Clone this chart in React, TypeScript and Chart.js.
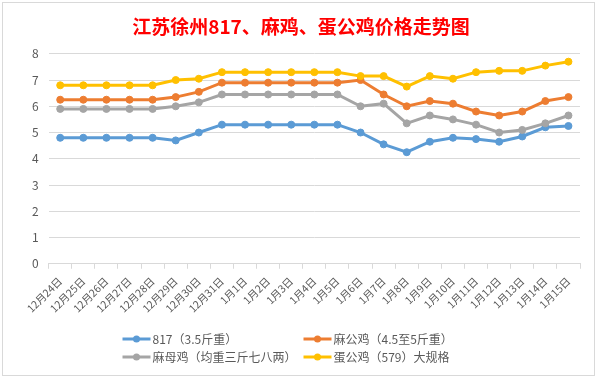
import React, { useEffect, useRef } from "react";
import { Chart, registerables } from "chart.js";

Chart.register(...registerables);

const categories = [
  "12月24日", "12月25日", "12月26日", "12月27日", "12月28日", "12月29日", "12月30日", "12月31日",
  "1月1日", "1月2日", "1月3日", "1月4日", "1月5日", "1月6日", "1月7日", "1月8日",
  "1月9日", "1月10日", "1月11日", "1月12日", "1月13日", "1月14日", "1月15日",
];

const series817 = [4.8, 4.8, 4.8, 4.8, 4.8, 4.7, 5.0, 5.3, 5.3, 5.3, 5.3, 5.3, 5.3, 5.0, 4.55, 4.25, 4.65, 4.8, 4.75, 4.65, 4.85, 5.2, 5.25];
const seriesMaGong = [6.25, 6.25, 6.25, 6.25, 6.25, 6.35, 6.55, 6.9, 6.9, 6.9, 6.9, 6.9, 6.9, 7.0, 6.45, 6.0, 6.2, 6.1, 5.8, 5.65, 5.8, 6.2, 6.35];
const seriesMaMu = [5.9, 5.9, 5.9, 5.9, 5.9, 6.0, 6.15, 6.45, 6.45, 6.45, 6.45, 6.45, 6.45, 6.0, 6.1, 5.35, 5.65, 5.5, 5.3, 5.0, 5.1, 5.35, 5.65];
const seriesDanGong = [6.8, 6.8, 6.8, 6.8, 6.8, 7.0, 7.05, 7.3, 7.3, 7.3, 7.3, 7.3, 7.3, 7.15, 7.15, 6.75, 7.15, 7.05, 7.3, 7.35, 7.35, 7.55, 7.7];

const seriesNames = ["817（3.5斤重）", "麻公鸡（4.5至5斤重）", "麻母鸡（均重三斤七八两）", "蛋公鸡（579）大规格"];
const seriesColors = ["#5B9BD5", "#ED7D31", "#A5A5A5", "#FFC000"];
const seriesValues = [series817, seriesMaGong, seriesMaMu, seriesDanGong];

const titleText = "江苏徐州817、麻鸡、蛋公鸡价格走势图";
const yTicks = [0, 1, 2, 3, 4, 5, 6, 7, 8];

const FONT = "'Noto Sans CJK SC', 'Noto Sans', sans-serif";

const framePlugin = {
  id: "frame",
  beforeDraw(chart: any) {
    const ctx = chart.ctx;
    ctx.save();
    ctx.fillStyle = "#ffffff";
    ctx.fillRect(0, 0, chart.width, chart.height);
    ctx.strokeStyle = "#d9d9d9";
    ctx.lineWidth = 1;
    ctx.strokeRect(2.5, 2.5, chart.width - 5, chart.height - 5);
    ctx.restore();
  },
  afterDraw(chart: any) {
    const ctx = chart.ctx;
    ctx.save();
    ctx.font = `12px ${FONT}`;
    ctx.textBaseline = "middle";
    ctx.textAlign = "left";
    const cx = chart.width / 2;
    const colX = [cx - 176, cx + 5];
    const rowY = [chart.height - 39, chart.height - 21];
    chart.data.datasets.forEach((ds: any, i: number) => {
      const x = colX[i % 2];
      const y = rowY[Math.floor(i / 2)];
      ctx.strokeStyle = ds.borderColor;
      ctx.lineWidth = 3;
      ctx.beginPath();
      ctx.moveTo(x, y);
      ctx.lineTo(x + 28, y);
      ctx.stroke();
      ctx.fillStyle = ds.borderColor;
      ctx.beginPath();
      ctx.arc(x + 14, y, 3.5, 0, Math.PI * 2);
      ctx.fill();
      ctx.fillStyle = "#595959";
      ctx.fillText(ds.label, x + 30, y);
    });
    ctx.restore();
  },
};

export default function App() {
  const ref = useRef<HTMLCanvasElement | null>(null);
  useEffect(() => {
    document.body.style.margin = "0";
    if (!ref.current) return;
    const chart = new Chart(ref.current, {
      type: "line",
      data: {
        labels: categories,
        datasets: seriesValues.map((vals, i) => ({
          label: seriesNames[i],
          data: vals,
          borderColor: seriesColors[i],
          backgroundColor: seriesColors[i],
          borderWidth: 3,
          pointRadius: 3.5,
          pointBorderWidth: 1,
          pointBackgroundColor: seriesColors[i],
          pointBorderColor: seriesColors[i],
          tension: 0,
          order: 4 - i,
        })),
      },
      options: {
        responsive: false,
        animation: false,
        layout: { padding: { left: 22, right: 17, top: 8, bottom: 57 } },
        plugins: {
          legend: { display: false },
          tooltip: { enabled: false },
          title: {
            display: true,
            text: titleText,
            color: "#FF0000",
            font: { size: 19, weight: "bold", family: FONT },
            padding: { top: 7, bottom: 16 },
          },
        },
        scales: {
          x: {
            offset: true,
            grid: {
              display: true,
              offset: true,
              drawOnChartArea: false,
              drawTicks: true,
              tickLength: 5,
              color: "#d9d9d9",
            },
            border: { display: true, color: "#d9d9d9" },
            ticks: {
              minRotation: 45,
              maxRotation: 45,
              autoSkip: false,
              color: "#595959",
              font: { size: 10.5, family: FONT },
              padding: 6,
            },
          },
          y: {
            min: 0,
            max: 8,
            afterBuildTicks: (scale: any) => {
              scale.ticks = yTicks.map((v) => ({ value: v }));
            },
            grid: { color: "#d9d9d9", drawTicks: false },
            border: { display: false },
            ticks: {
              color: "#595959",
              font: { size: 12, family: FONT },
              padding: 10,
            },
          },
        },
      },
      plugins: [framePlugin],
    } as any);
    return () => chart.destroy();
  }, []);
  return (
    <div style={{ width: 597, height: 378 }}>
      <canvas ref={ref} width={597} height={378} />
    </div>
  );
}
